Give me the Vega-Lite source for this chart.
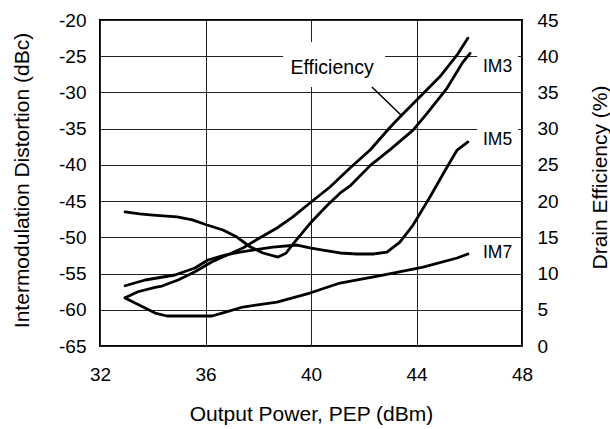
{
  "$schema": "https://vega.github.io/schema/vega-lite/v6.json",
  "width": 422,
  "height": 326,
  "autosize": {"type": "none"},
  "padding": {"left": 100, "top": 20, "right": 88, "bottom": 83},
  "background": "white",
  "config": {
    "view": {"stroke": "#000", "strokeWidth": 2},
    "axis": {
      "labelFont": "Liberation Sans", "titleFont": "Liberation Sans",
      "labelFontSize": 19, "titleFontSize": 21, "titleFontWeight": "normal",
      "labelColor": "#000", "titleColor": "#000",
      "ticks": false, "tickSize": 0, "domain": false,
      "labelFlush": false, "labelOverlap": false,
      "gridColor": "#222", "gridWidth": 1, "gridOpacity": 1
    },
    "text": {"font": "Liberation Sans", "color": "#000"}
  },
  "datasets": {
    "curves": [
      {"series": "IM3", "x": 32.95, "v": -46.5},
      {"series": "IM3", "x": 33.5, "v": -46.75},
      {"series": "IM3", "x": 34.01, "v": -46.92},
      {"series": "IM3", "x": 34.92, "v": -47.19},
      {"series": "IM3", "x": 35.5, "v": -47.6},
      {"series": "IM3", "x": 36.06, "v": -48.3},
      {"series": "IM3", "x": 36.66, "v": -48.99},
      {"series": "IM3", "x": 37.19, "v": -49.96},
      {"series": "IM3", "x": 37.69, "v": -51.3},
      {"series": "IM3", "x": 38.18, "v": -52.16},
      {"series": "IM3", "x": 38.75, "v": -52.72},
      {"series": "IM3", "x": 39.05, "v": -52.2},
      {"series": "IM3", "x": 39.3, "v": -51.0},
      {"series": "IM3", "x": 39.96, "v": -48.1},
      {"series": "IM3", "x": 40.61, "v": -45.6},
      {"series": "IM3", "x": 41.1, "v": -43.9},
      {"series": "IM3", "x": 41.48, "v": -42.9},
      {"series": "IM3", "x": 42.24, "v": -40.1},
      {"series": "IM3", "x": 43.0, "v": -37.9},
      {"series": "IM3", "x": 43.87, "v": -35.2},
      {"series": "IM3", "x": 44.4, "v": -32.9},
      {"series": "IM3", "x": 45.16, "v": -29.4},
      {"series": "IM3", "x": 45.76, "v": -25.8},
      {"series": "IM3", "x": 46.03, "v": -24.6},
      {"series": "IM5", "x": 32.95, "v": -56.68},
      {"series": "IM5", "x": 33.71, "v": -55.89},
      {"series": "IM5", "x": 34.84, "v": -55.2},
      {"series": "IM5", "x": 35.6, "v": -54.24},
      {"series": "IM5", "x": 36.09, "v": -53.13},
      {"series": "IM5", "x": 36.74, "v": -52.44},
      {"series": "IM5", "x": 37.31, "v": -52.03},
      {"series": "IM5", "x": 38.56, "v": -51.34},
      {"series": "IM5", "x": 39.47, "v": -51.06},
      {"series": "IM5", "x": 39.96, "v": -51.47},
      {"series": "IM5", "x": 40.45, "v": -51.75},
      {"series": "IM5", "x": 41.1, "v": -52.16},
      {"series": "IM5", "x": 41.74, "v": -52.3},
      {"series": "IM5", "x": 42.35, "v": -52.3},
      {"series": "IM5", "x": 42.88, "v": -52.03},
      {"series": "IM5", "x": 43.37, "v": -50.65},
      {"series": "IM5", "x": 43.87, "v": -48.3},
      {"series": "IM5", "x": 44.51, "v": -44.43},
      {"series": "IM5", "x": 45.16, "v": -40.29},
      {"series": "IM5", "x": 45.54, "v": -37.95},
      {"series": "IM5", "x": 45.95, "v": -36.84},
      {"series": "IM7", "x": 32.95, "v": -58.38},
      {"series": "IM7", "x": 33.33, "v": -59.07},
      {"series": "IM7", "x": 34.09, "v": -60.45},
      {"series": "IM7", "x": 34.54, "v": -60.86},
      {"series": "IM7", "x": 36.25, "v": -60.86},
      {"series": "IM7", "x": 36.63, "v": -60.45},
      {"series": "IM7", "x": 37.42, "v": -59.62},
      {"series": "IM7", "x": 38.71, "v": -58.93},
      {"series": "IM7", "x": 39.96, "v": -57.69},
      {"series": "IM7", "x": 41.1, "v": -56.31},
      {"series": "IM7", "x": 42.73, "v": -55.2},
      {"series": "IM7", "x": 44.25, "v": -54.1},
      {"series": "IM7", "x": 45.54, "v": -52.85},
      {"series": "IM7", "x": 45.95, "v": -52.3}
    ],
    "efficiency": [
      {"x": 32.95, "e": 6.67},
      {"x": 33.44, "e": 7.49},
      {"x": 34.09, "e": 8.1},
      {"x": 34.35, "e": 8.28},
      {"x": 34.96, "e": 9.11},
      {"x": 35.6, "e": 10.26},
      {"x": 36.25, "e": 11.64},
      {"x": 36.74, "e": 12.42},
      {"x": 37.42, "e": 13.53},
      {"x": 38.0, "e": 14.8},
      {"x": 38.71, "e": 16.29},
      {"x": 39.3, "e": 17.8},
      {"x": 39.96, "e": 19.74},
      {"x": 40.72, "e": 21.95},
      {"x": 41.48, "e": 24.57},
      {"x": 42.24, "e": 27.05},
      {"x": 43.0, "e": 30.2},
      {"x": 43.37, "e": 31.6},
      {"x": 44.02, "e": 34.0},
      {"x": 44.89, "e": 37.2},
      {"x": 45.54, "e": 40.17},
      {"x": 45.95, "e": 42.5}
    ],
    "boxes": [
      {"x": 38.94, "x2": 42.81, "v": -23.04, "v2": -29.25},
      {"x": 46.3, "x2": 47.85, "v": -24.5, "v2": -28.5},
      {"x": 46.3, "x2": 47.85, "v": -34.5, "v2": -38.5}
    ],
    "leader": [
      {"x": 42.31, "x2": 43.45, "v": -29.25, "v2": -33.25}
    ],
    "labels": [
      {"label": "IM3", "x": 46.52, "v": -26.5},
      {"label": "IM5", "x": 46.52, "v": -36.57},
      {"label": "IM7", "x": 46.52, "v": -52.17}
    ],
    "efflabel": [
      {"label": "Efficiency", "x": 40.8, "v": -26.63}
    ]
  },
  "layer": [
    {
      "layer": [
        {
          "data": {"name": "boxes"},
          "mark": {"type": "rect", "fill": "white", "stroke": null},
          "encoding": {
            "x": {"field": "x", "type": "quantitative", "scale": {"domain": [32, 48], "nice": false, "zero": false}, "axis": {"title": "Output Power, PEP (dBm)", "values": [32, 36, 40, 44, 48], "grid": true, "labelPadding": 19, "titleY": 68, "titleBaseline": "middle"}},
            "x2": {"field": "x2"},
            "y": {"field": "v", "type": "quantitative", "scale": {"domain": [-65, -20], "nice": false, "zero": false}, "axis": {"title": "Intermodulation Distortion (dBc)", "values": [-65, -60, -55, -50, -45, -40, -35, -30, -25, -20], "labelExpr": "replace(datum.label, '\u2212', '-')", "grid": true, "labelPadding": 14, "titleX": -78, "titleY": 160, "titleAngle": -90, "titleBaseline": "middle"}},
            "y2": {"field": "v2"}
          }
        },
        {
          "data": {"name": "curves"},
          "mark": {"type": "line", "color": "#000", "strokeWidth": 2.8, "strokeJoin": "round", "strokeCap": "round"},
          "encoding": {
            "x": {"field": "x", "type": "quantitative", "axis": {"title": "Output Power, PEP (dBm)", "values": [32, 36, 40, 44, 48], "grid": true, "labelPadding": 19, "titleY": 68, "titleBaseline": "middle"}},
            "y": {"field": "v", "type": "quantitative", "axis": {"title": "Intermodulation Distortion (dBc)", "values": [-65, -60, -55, -50, -45, -40, -35, -30, -25, -20], "labelExpr": "replace(datum.label, '\u2212', '-')", "grid": true, "labelPadding": 14, "titleX": -78, "titleY": 160, "titleAngle": -90, "titleBaseline": "middle"}},
            "detail": {"field": "series"}
          }
        },
        {
          "data": {"name": "leader"},
          "mark": {"type": "rule", "color": "#000", "strokeWidth": 1.5},
          "encoding": {
            "x": {"field": "x", "type": "quantitative", "axis": {"title": "Output Power, PEP (dBm)", "values": [32, 36, 40, 44, 48], "grid": true, "labelPadding": 19, "titleY": 68, "titleBaseline": "middle"}},
            "x2": {"field": "x2"},
            "y": {"field": "v", "type": "quantitative", "axis": {"title": "Intermodulation Distortion (dBc)", "values": [-65, -60, -55, -50, -45, -40, -35, -30, -25, -20], "labelExpr": "replace(datum.label, '\u2212', '-')", "grid": true, "labelPadding": 14, "titleX": -78, "titleY": 160, "titleAngle": -90, "titleBaseline": "middle"}},
            "y2": {"field": "v2"}
          }
        },
        {
          "data": {"name": "labels"},
          "mark": {"type": "text", "align": "left", "baseline": "middle", "fontSize": 17.5},
          "encoding": {
            "x": {"field": "x", "type": "quantitative", "axis": {"title": "Output Power, PEP (dBm)", "values": [32, 36, 40, 44, 48], "grid": true, "labelPadding": 19, "titleY": 68, "titleBaseline": "middle"}},
            "y": {"field": "v", "type": "quantitative", "axis": {"title": "Intermodulation Distortion (dBc)", "values": [-65, -60, -55, -50, -45, -40, -35, -30, -25, -20], "labelExpr": "replace(datum.label, '\u2212', '-')", "grid": true, "labelPadding": 14, "titleX": -78, "titleY": 160, "titleAngle": -90, "titleBaseline": "middle"}},
            "text": {"field": "label"}
          }
        },
        {
          "data": {"name": "efflabel"},
          "mark": {"type": "text", "align": "center", "baseline": "middle", "fontSize": 19.5},
          "encoding": {
            "x": {"field": "x", "type": "quantitative", "axis": {"title": "Output Power, PEP (dBm)", "values": [32, 36, 40, 44, 48], "grid": true, "labelPadding": 19, "titleY": 68, "titleBaseline": "middle"}},
            "y": {"field": "v", "type": "quantitative", "axis": {"title": "Intermodulation Distortion (dBc)", "values": [-65, -60, -55, -50, -45, -40, -35, -30, -25, -20], "labelExpr": "replace(datum.label, '\u2212', '-')", "grid": true, "labelPadding": 14, "titleX": -78, "titleY": 160, "titleAngle": -90, "titleBaseline": "middle"}},
            "text": {"field": "label"}
          }
        }
      ]
    },
    {
      "data": {"name": "efficiency"},
      "mark": {"type": "line", "color": "#000", "strokeWidth": 2.8, "strokeJoin": "round", "strokeCap": "round"},
      "encoding": {
        "x": {"field": "x", "type": "quantitative", "axis": {"title": "Output Power, PEP (dBm)", "values": [32, 36, 40, 44, 48], "grid": true, "labelPadding": 19, "titleY": 68, "titleBaseline": "middle"}},
        "y": {"field": "e", "type": "quantitative", "scale": {"domain": [0, 45], "nice": false, "zero": false}, "axis": {"orient": "right", "title": "Drain Efficiency (%)", "values": [0, 5, 10, 15, 20, 25, 30, 35, 40, 45], "grid": false, "labelPadding": 15, "titleX": 78, "titleY": 157, "titleAngle": -90, "titleBaseline": "middle"}}
      }
    }
  ],
  "resolve": {"scale": {"y": "independent"}}
}
